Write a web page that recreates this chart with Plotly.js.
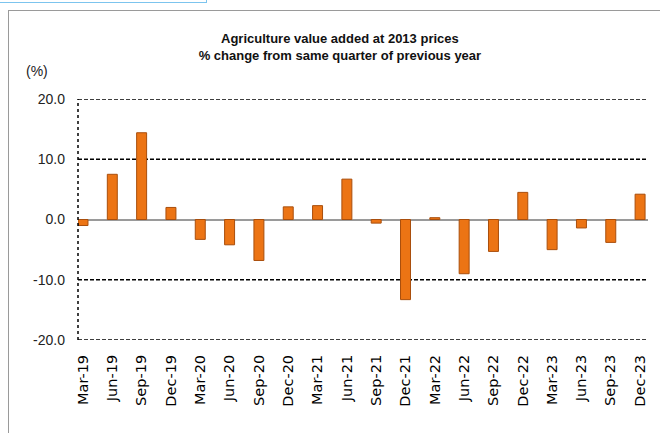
<!DOCTYPE html>
<html>
<head>
<meta charset="utf-8">
<script src="https://cdn.plot.ly/plotly-3.0.1.min.js"></script>
<style>
  html, body { margin: 0; padding: 0; background: #fff; }
  #wrap { position: relative; width: 660px; height: 433px; overflow: hidden; }
  #chart { position: absolute; left: 0; top: 0; width: 660px; height: 433px; }
  #frame { position: absolute; left: 8px; top: 10px; width: 700px; height: 500px;
           border-left: 1px solid #9a9a9a; border-top: 1px solid #9a9a9a; pointer-events: none; }
  #bluebox { position: absolute; left: -2px; top: -10px; width: 207px; height: 11px;
             border: 1px solid #7cc4ee; pointer-events: none; }
</style>
</head>
<body>
<div id="wrap">
  <div id="chart"></div>
  <div id="frame"></div>
  <div id="bluebox"></div>
</div>
<script>
const quarters = ["Mar-19","Jun-19","Sep-19","Dec-19","Mar-20","Jun-20","Sep-20","Dec-20",
                  "Mar-21","Jun-21","Sep-21","Dec-21","Mar-22","Jun-22","Sep-22","Dec-22",
                  "Mar-23","Jun-23","Sep-23","Dec-23"];
const pctChange = [-1.0, 7.5, 14.4, 2.0, -3.3, -4.2, -6.8, 2.1,
                   2.3, 6.7, -0.6, -13.3, 0.3, -9.0, -5.3, 4.5,
                   -5.0, -1.4, -3.8, 4.2];
const yTicks = [-20, -10, 0, 10, 20];
const yTickText = ["-20.0", "-10.0", "0.0", "10.0", "20.0"];
const gridValues = [-20, -10, 10, 20];
const titleText = "Agriculture value added at 2013 prices<br>% change from same quarter of previous year";
const unitLabel = "(%)";

const trace = {
  type: "bar",
  x: quarters,
  y: pctChange,
  width: 0.34,
  marker: { color: "#EC7414", line: { color: "#A94E0C", width: 1 } },
  hoverinfo: "x+y"
};

const gridShapes = gridValues.map(v => ({
  type: "line", xref: "paper", yref: "y", x0: 0, x1: 1, y0: v, y1: v,
  line: { color: "#000", width: 1.5, dash: "4px,2px" }, layer: "below"
}));

const layout = {
  width: 660, height: 433,
  margin: { l: 78, r: 12, t: 99, b: 93 },
  paper_bgcolor: "#fff", plot_bgcolor: "#fff",
  showlegend: false,
  title: {
    text: titleText,
    x: 0.515, xanchor: "center",
    y: 0.9, yanchor: "top",
    font: { family: "Liberation Sans, Arial", size: 13, color: "#111", weight: "bold" }
  },
  xaxis: {
    type: "category",
    range: [-0.17, 19.27],
    tickangle: -90,
    showgrid: false, zeroline: false, showline: false,
    ticks: "", ticklabelstandoff: 11,
    tickfont: { family: "DejaVu Sans", size: 14.5, color: "#000" },
    fixedrange: true
  },
  yaxis: {
    range: [-20, 20],
    tickvals: yTicks, ticktext: yTickText,
    showgrid: false,
    zeroline: true, zerolinecolor: "#9a9a9a", zerolinewidth: 2,
    showline: false, ticks: "", ticklabelstandoff: 12,
    tickfont: { family: "Liberation Sans, Arial", size: 14, color: "#222" },
    fixedrange: true
  },
  shapes: gridShapes.concat([
    { type: "line", xref: "paper", yref: "y", x0: 0, x1: 0, y0: -20, y1: 20,
      line: { color: "#000", width: 1.5, dash: "dot" } }
  ]),
  annotations: [
    { text: unitLabel, xref: "paper", yref: "paper", x: -0.072, y: 1.115,
      xanchor: "center", yanchor: "middle", showarrow: false,
      font: { family: "Liberation Sans, Arial", size: 14, color: "#222" } }
  ]
};

Plotly.newPlot("chart", [trace], layout, { displayModeBar: false, staticPlot: true });
</script>
</body>
</html>
